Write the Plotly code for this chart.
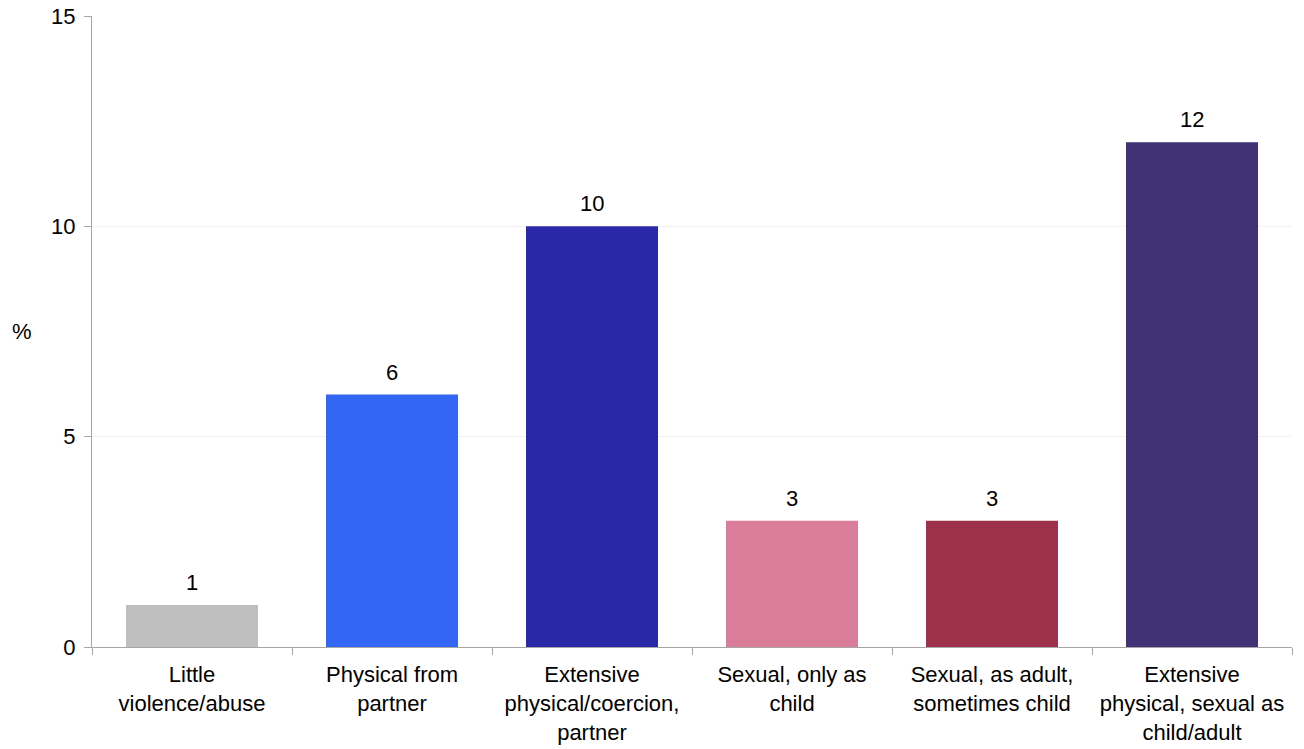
import plotly.graph_objects as go

# Share of women in each violence/abuse class (%)
categories = [
    "Little<br>violence/abuse",
    "Physical from<br>partner",
    "Extensive<br>physical/coercion,<br>partner",
    "Sexual, only as<br>child",
    "Sexual, as adult,<br>sometimes child",
    "Extensive<br>physical, sexual as<br>child/adult",
]
values = [1, 6, 10, 3, 3, 12]
bar_colors = ["#BFBFBF", "#3366F2", "#2828A8", "#D97D9B", "#9C3149", "#403274"]
y_ticks = [0, 5, 10, 15]

FONT = "Liberation Sans, Arial, sans-serif"

fig = go.Figure()
fig.add_trace(go.Bar(
    x=categories,
    y=values,
    marker=dict(color=bar_colors, line=dict(width=0)),
    width=0.66,
    showlegend=False,
    hoverinfo="x+y",
))

# value labels above bars
for c, v in zip(categories, values):
    fig.add_annotation(
        x=c, y=v, text=str(v), showarrow=False,
        yanchor="bottom", yshift=8,
        font=dict(size=22, color="#000000", family=FONT),
    )

# "%" axis label, horizontal
fig.add_annotation(
    text="%", xref="paper", yref="paper", x=-0.058, y=0.5,
    xanchor="center", showarrow=False,
    font=dict(size=22, color="#000000", family=FONT),
)

fig.update_layout(
    width=1304, height=749,
    margin=dict(l=92, r=12, t=16, b=102, autoexpand=False),
    paper_bgcolor="white",
    plot_bgcolor="white",
    font=dict(family=FONT, size=22, color="#000000"),
    bargap=0.34,
)

fig.update_xaxes(
    showline=True, linecolor="#A6A6A6", linewidth=1,
    ticks="outside", tickson="boundaries", ticklen=7, tickcolor="#A6A6A6",
    showgrid=False, automargin=False,
    ticklabelstandoff=8,
    tickfont=dict(size=22, color="#000000"),
)
fig.update_yaxes(
    range=[0, 15], tickvals=y_ticks,
    showline=True, linecolor="#A6A6A6", linewidth=1,
    ticks="outside", ticklen=7, tickcolor="#A6A6A6",
    showgrid=True, gridcolor="#F2F2F2", gridwidth=1,
    zeroline=False, automargin=False,
    ticklabelstandoff=4,
    tickfont=dict(size=22, color="#000000"),
)

fig.write_html("out.html", config={"displayModeBar": False},
               post_script="document.body.style.margin='0';")
